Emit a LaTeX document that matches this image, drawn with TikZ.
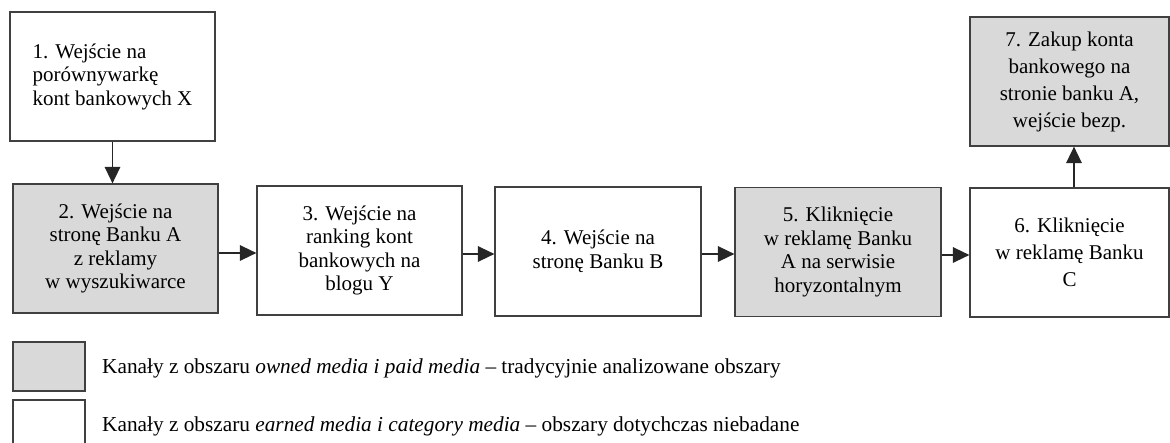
\documentclass[tikz,border=0pt]{standalone}
\usepackage{fontspec}
\setmainfont{Liberation Serif}
\usepackage{tikz}
\usetikzlibrary{arrows.meta}

\begin{document}
\begin{tikzpicture}[>={Triangle[length=16.5pt, width=15.5pt]}, x=1pt, y=-1pt,
    krok/.style={draw=black!75, line width=1.2pt, minimum width=205pt, minimum height=129pt,
      inner sep=0pt, align=center, font=\fontsize{21}{23.5}\selectfont},
    szary/.style={krok, fill=black!15},
    luzno/.style={font=\fontsize{21}{27}\selectfont},
    strzalka/.style={->, line width=1.5pt, black!85},
    opis/.style={anchor=west, inner sep=0pt, font=\fontsize{21.3}{23.5}\selectfont}]
                \useasboundingbox (0,0) rectangle (1170,443);
                \clip (0,0) rectangle (1170,443);
                % Kroki
                \node[krok, align=left] (k1) at (112.5,76.5) {1. Wejście na\\porównywarkę\\kont bankowych X};
                \node[szary] (k2) at (115.5,248.5) {2. Wejście na\\stronę Banku A\\z reklamy\\w wyszukiwarce};
                \node[krok] (k3) at (359.5,250.5) {3. Wejście na\\ranking kont\\bankowych na\\blogu Y};
                \node[krok, minimum width=206pt] (k4) at (598,251.5) {4. Wejście na\\stronę Banku B};
                \node[szary, minimum width=206pt] (k5) at (838,252) {5. Kliknięcie\\w reklamę Banku\\A na serwisie\\horyzontalnym};
                \node[krok, luzno, minimum width=199pt] (k6) at (1069.5,252.5) {6. Kliknięcie\\w reklamę Banku\\C};
                \node[szary, luzno, minimum width=199pt] (k7) at (1069.5,81.5) {7. Zakup konta\\bankowego na\\stronie banku A,\\wejście bezp.};
                % Strzalki
                \draw[strzalka] (k1.south) -- (k1.south |- k2.north);
                \draw[strzalka] ([yshift=-4.5pt]k2.east) -- ([yshift=-4.5pt]k2.east -| k3.west);
                \draw[strzalka] ([yshift=-3.5pt]k3.east) -- ([yshift=-3.5pt]k3.east -| k4.west);
                \draw[strzalka] ([yshift=-2.5pt]k4.east) -- ([yshift=-2.5pt]k4.east -| k5.west);
                \draw[strzalka] ([yshift=-3pt]k5.east) -- ([yshift=-3pt]k5.east -| k6.west);
                \draw[strzalka] ([xshift=4.5pt]k6.north) -- ([xshift=4.5pt]k7.south);
                % Legenda
                \node[szary, minimum width=72pt, minimum height=49pt] (l1) at (49,366.5) {};
                \node[krok, minimum width=72pt, minimum height=70pt] (l2) at (49,435) {};
                \node[opis] (o1) at (102,368) {Kanały z obszaru \textit{owned media i paid media} – tradycyjnie analizowane obszary};
                \node[opis] (o2) at (102,426) {Kanały z obszaru \textit{earned media i category media} – obszary dotychczas niebadane};
            \end{tikzpicture}
\end{document}
